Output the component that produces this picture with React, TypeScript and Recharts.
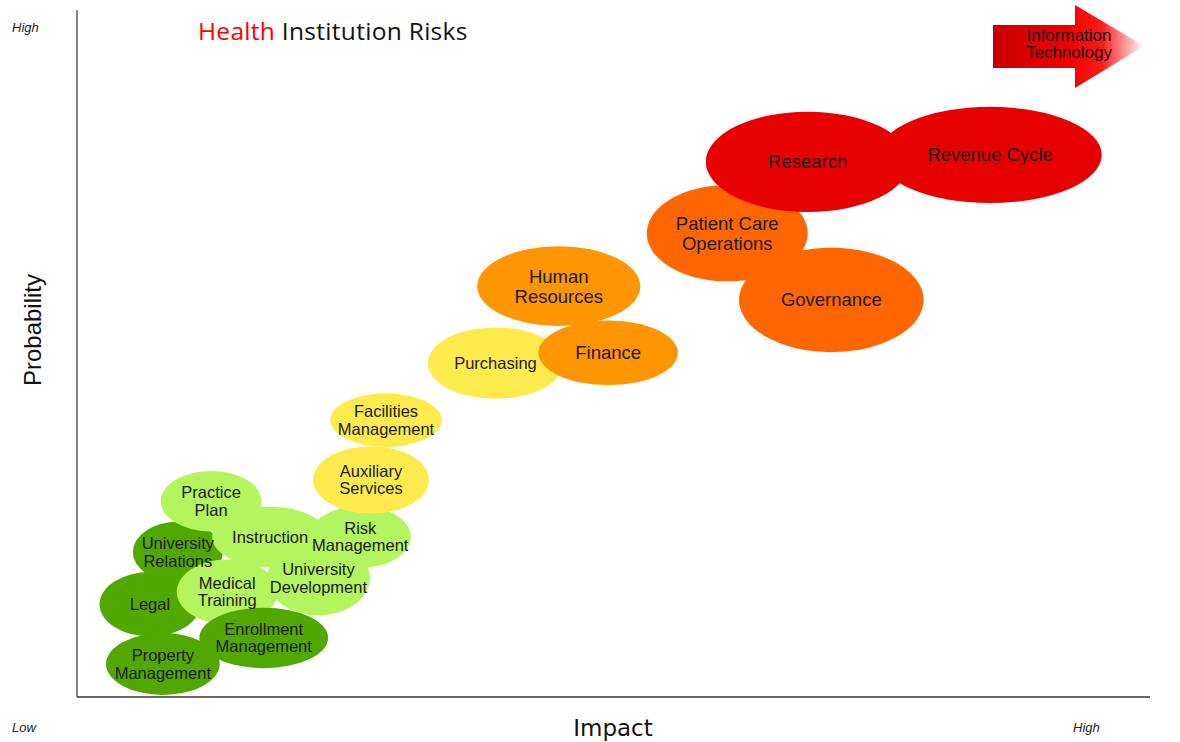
import React from "react";
import { ScatterChart, Scatter, XAxis, YAxis, Customized } from "recharts";

const W = 1180;
const H = 742;
const M = { top: 10, right: 30, left: 0, bottom: 0 };
const Y_AXIS_W = 77;
const X_AXIS_H = 45;
const PLOT_W = W - M.left - M.right - Y_AXIS_W;
const PLOT_H = H - M.top - M.bottom - X_AXIS_H;

// risk areas, listed back-to-front
const names = [
  "Legal",
  "University\nRelations",
  "Property\nManagement",
  "Practice\nPlan",
  "Instruction",
  "Risk\nManagement",
  "University\nDevelopment",
  "Medical\nTraining",
  "Enrollment\nManagement",
  "Auxiliary\nServices",
  "Facilities\nManagement",
  "Purchasing",
  "Human\nResources",
  "Finance",
  "Patient Care\nOperations",
  "Governance",
  "Revenue Cycle",
  "Research",
];
const impact = [6.8, 9.4, 8.0, 12.5, 18.0, 26.4, 22.5, 14.0, 17.4, 27.4, 28.8, 39.0, 44.9, 49.5, 60.6, 70.3, 85.1, 68.1];
const probability = [13.5, 21.1, 4.8, 28.5, 23.3, 23.3, 17.3, 15.3, 8.6, 31.6, 40.3, 48.6, 59.8, 50.1, 67.5, 57.8, 78.9, 77.9];
// half-spread of each bubble, in axis units
const spreadX = [4.7, 4.2, 5.3, 4.7, 5.4, 4.7, 4.8, 4.7, 6.0, 5.4, 5.2, 6.3, 7.6, 6.5, 7.5, 8.6, 10.4, 9.5];
const spreadY = [4.7, 4.4, 4.5, 4.4, 4.4, 4.5, 5.4, 4.7, 4.4, 4.9, 3.9, 5.2, 5.8, 4.7, 7.0, 7.6, 7.0, 7.3];
const tier = [0, 0, 0, 1, 1, 1, 1, 1, 0, 2, 2, 2, 3, 3, 4, 4, 5, 5];

const tierColors = ["#52a800", "#b4f45e", "#fdea4c", "#ff9500", "#ff6600", "#e60000"];

const data = names.map((name, i) => ({
  name,
  impact: impact[i],
  probability: probability[i],
  sx: spreadX[i],
  sy: spreadY[i],
  tier: tier[i],
}));

const ARIAL = "'Liberation Sans', Arial, sans-serif";

const Bubble = (props: any) => {
  const { cx, cy, payload } = props;
  return (
    <ellipse
      cx={cx}
      cy={cy}
      rx={(payload.sx * PLOT_W) / 100}
      ry={(payload.sy * PLOT_H) / 100}
      fill={tierColors[payload.tier]}
    />
  );
};

const BubbleLabel = (props: any) => {
  const { cx, cy, payload } = props;
  const lines = payload.name.split("\n");
  const fs = payload.tier >= 3 ? 18.5 : 16.5;
  const lh = payload.tier >= 3 ? 20 : 17.5;
  const start = cy - ((lines.length - 1) * lh) / 2;
  return (
    <text textAnchor="middle" fontFamily={ARIAL} fontSize={fs} fill="#1a1a1a">
      {lines.map((l: string, i: number) => (
        <tspan key={i} x={cx} y={start + i * lh} dy="0.35em">
          {l}
        </tspan>
      ))}
    </text>
  );
};

const Decorations = () => (
  <g>
    <defs>
      <linearGradient id="itArrow" x1="0" y1="0" x2="1" y2="0">
        <stop offset="0%" stopColor="#c80000" />
        <stop offset="50%" stopColor="#f00000" />
        <stop offset="72%" stopColor="#ff1a1a" />
        <stop offset="100%" stopColor="#ffffff" />
      </linearGradient>
    </defs>
    <path d="M993,25 L1075,25 L1075,5 L1144,46 L1075,88 L1075,68 L993,68 Z" fill="url(#itArrow)" />
    <text x={1069} y={41} textAnchor="middle" fontFamily={ARIAL} fontSize={17} fill="#111">
      Information
    </text>
    <text x={1069} y={58} textAnchor="middle" fontFamily={ARIAL} fontSize={17} fill="#111">
      Technology
    </text>
    <text x={198} y={40} fontFamily="'Open Sans', sans-serif" fontSize={24.5} letterSpacing={0.3}>
      <tspan fill="#ff0000">Health</tspan>
      <tspan fill="#111"> Institution Risks</tspan>
    </text>
    <text x={12} y={32} fontFamily={ARIAL} fontStyle="italic" fontSize={13} fill="#222">
      High
    </text>
    <text x={12} y={732} fontFamily={ARIAL} fontStyle="italic" fontSize={13} fill="#222">
      Low
    </text>
    <text x={1073} y={732} fontFamily={ARIAL} fontStyle="italic" fontSize={13} fill="#222">
      High
    </text>
    <text
      x={41}
      y={330}
      textAnchor="middle"
      transform="rotate(-90 41 330)"
      fontFamily={ARIAL}
      fontSize={24}
      fill="#111"
    >
      Probability
    </text>
    <text x={613} y={736} textAnchor="middle" fontFamily="'DejaVu Sans', sans-serif" fontSize={23} fill="#111">
      Impact
    </text>
  </g>
);

export default function App() {
  return (
    <div style={{ position: "absolute", left: 0, top: 0, background: "#fff" }}>
      <ScatterChart width={W} height={H} margin={M}>
        <XAxis
          type="number"
          dataKey="impact"
          domain={[0, 100]}
          tick={false}
          tickLine={false}
          height={X_AXIS_H}
          axisLine={{ stroke: "#666", strokeWidth: 2 }}
        />
        <YAxis
          type="number"
          dataKey="probability"
          domain={[0, 100]}
          tick={false}
          tickLine={false}
          width={Y_AXIS_W}
          axisLine={{ stroke: "#333", strokeWidth: 1.2 }}
        />
        <Scatter data={data} shape={Bubble} isAnimationActive={false} />
        <Scatter data={data} shape={BubbleLabel} isAnimationActive={false} />
        <Customized component={<Decorations />} />
      </ScatterChart>
    </div>
  );
}
